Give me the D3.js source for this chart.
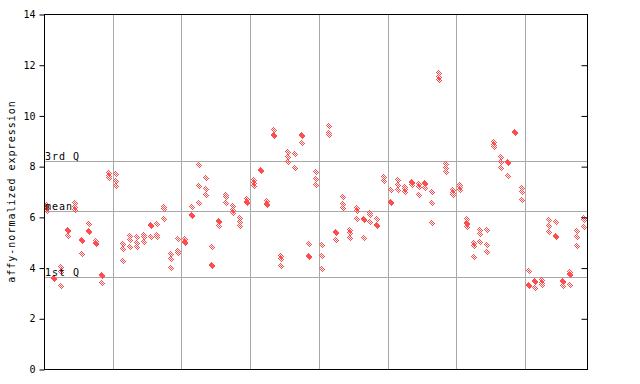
<!DOCTYPE html>
<html><head><meta charset="utf-8">
<script src="https://cdn.jsdelivr.net/npm/d3@7"></script>
<style>
html,body{margin:0;padding:0;background:#fff;}
text{font-family:"DejaVu Sans Mono",monospace;fill:#000;}
</style></head>
<body><svg id="c" width="640" height="384"></svg>
<script>
// Expression values per sample (79 samples, 8 groups)
const sampleValues = [
 [6.47,6.36,6.24],[3.60,3.56],[4.03,3.84,3.27],[5.50,5.46,5.23],[6.53,6.40,6.27],
 [5.08,5.04,4.52],[5.71,5.44,5.40],[5.06,4.95,4.91],[3.69,3.65,3.38],[7.72,7.62,7.52],
 [7.69,7.41,7.22],[4.93,4.73,4.26],[5.23,5.09,4.82],[5.19,4.98,4.80],[5.28,5.22,5.00],
 [5.67,5.63,5.19],[5.71,5.28,5.19],[6.37,6.30,5.90],[4.53,4.34,3.98],[5.11,4.66,4.56],
 [5.11,4.99,4.95],[6.37,6.08,6.04],[8.03,7.22,6.53],[7.52,7.09,6.86],[4.80,4.10,4.06],
 [5.83,5.79,5.64],[6.88,6.78,6.53],[6.42,6.28,6.14],[5.94,5.81,5.64],[6.70,6.60,6.53],
 [7.45,7.33,7.22],[7.83,7.79],[6.64,6.51,6.47],[9.42,9.22,9.18],[4.46,4.33,4.06],
 [8.54,8.35,8.15],[8.48,7.91],[9.22,9.18,8.90],[4.92,4.45,4.41],[7.77,7.48,7.24],
 [4.88,4.46,3.93],[9.58,9.29,9.21],[5.40,5.36,5.09],[6.79,6.51,6.34],[5.48,5.38,5.15],
 [6.34,6.24,5.90],[5.92,5.88,5.15],[6.16,6.07,5.81],[5.91,5.67,5.63],[7.56,7.42],
 [7.06,6.58,6.54],[7.45,7.26,7.06],[7.19,7.09,6.99],[7.36,7.32,7.24],[7.28,7.16,6.85],
 [7.34,7.30,7.12],[7.00,6.53,5.74],[11.66,11.53,11.40],[8.10,7.91,7.78],[7.06,6.96,6.86],
 [7.26,7.16,7.06],[5.90,5.74,5.70,5.61],[4.98,4.85,4.40],[5.48,5.32,5.00],[5.48,4.88,4.60],
 [8.96,8.85,8.74],[8.35,8.18,7.91],[8.18,8.14,7.60],[9.34,9.30],[7.12,6.99,6.65],
 [3.86,3.30,3.26],[3.46,3.42,3.21],[3.52,3.40,3.30],[5.86,5.64,5.39],[5.78,5.26,5.22],
 [3.46,3.42,3.28],[3.84,3.73,3.69,3.30],[5.44,5.22,4.84],[5.97,5.89,5.61]
];
const groupSize = 10;
const yTicks = [0,2,4,6,8,10,12,14];
const refLines = [
  {label:"3rd Q", value:8.21},
  {label:"mean", value:6.23},
  {label:"1st Q", value:3.62}
];
const yTitle = "affy-normalized expression";

const L=44, R=587, T=14, B=369;
const svg = d3.select("#c");
const x = d3.scaleBand().domain(d3.range(sampleValues.length)).range([L,R]);
const y = d3.scaleLinear().domain([0,14]).range([B,T]);

const defs = svg.append("defs");
const pat = defs.append("pattern").attr("id","chk").attr("patternUnits","userSpaceOnUse")
  .attr("x",0).attr("y",0).attr("width",2).attr("height",2);
pat.append("rect").attr("x",0).attr("y",0).attr("width",1).attr("height",1).attr("fill","#ff4d4d");
pat.append("rect").attr("x",1).attr("y",1).attr("width",1).attr("height",1).attr("fill","#ff4d4d");

// group separators
const gsep = d3.range(groupSize, sampleValues.length, groupSize);
svg.append("g").selectAll("line").data(gsep).join("line")
  .attr("x1",d=>Math.round(x(d))+0.5).attr("x2",d=>Math.round(x(d))+0.5)
  .attr("y1",T).attr("y2",B).attr("stroke","#a8a8a8").attr("stroke-width",1);

// reference lines
svg.append("g").selectAll("line").data(refLines).join("line")
  .attr("x1",L).attr("x2",R)
  .attr("y1",d=>Math.round(y(d.value))+0.5).attr("y2",d=>Math.round(y(d.value))+0.5)
  .attr("stroke","#a8a8a8").attr("stroke-width",1);

// points
const pts = [];
sampleValues.forEach((vals,i)=>vals.forEach(v=>pts.push({i,v})));
svg.append("g").selectAll("path").data(pts).join("path")
  .attr("transform",d=>`translate(${Math.round(x(d.i)+x.bandwidth()/2)},${Math.round(y(d.v))})`)
  .attr("d","M0,-3.5L3.5,0L0,3.5L-3.5,0Z")
  .attr("fill","url(#chk)")
  .attr("shape-rendering","crispEdges");

// reference labels
svg.append("g").selectAll("text").data(refLines).join("text")
  .attr("x",L+1).attr("y",d=>Math.round(y(d.value))-1)
  .attr("font-size",10).attr("letter-spacing",1)
  .text(d=>d.label);

// axes
const yAxis = d3.axisLeft(y).tickValues(yTicks).tickSize(5).tickPadding(4);
const gL = svg.append("g").attr("transform",`translate(${L+0.5},0.5)`).call(yAxis);
gL.select(".domain").remove();
gL.selectAll("text").attr("font-size",10).attr("font-family","DejaVu Sans Mono");
gL.selectAll("line").attr("stroke","#000");

const yAxisR = d3.axisLeft(y).tickValues(yTicks.slice(1,-1)).tickSize(6).tickFormat("");
const gR = svg.append("g").attr("transform",`translate(${R+0.5},0.5)`).call(yAxisR);
gR.select(".domain").remove();
gR.selectAll("line").attr("stroke","#000");

// frame
svg.append("rect").attr("x",L+0.5).attr("y",T+0.5).attr("width",R-L).attr("height",B-T)
  .attr("fill","none").attr("stroke","#000").attr("stroke-width",1);

// title
svg.append("text").attr("transform",`translate(15,${(T+B)/2}) rotate(-90)`)
  .attr("text-anchor","middle").attr("font-size",10).attr("letter-spacing",1)
  .text(yTitle);
</script></body></html>
